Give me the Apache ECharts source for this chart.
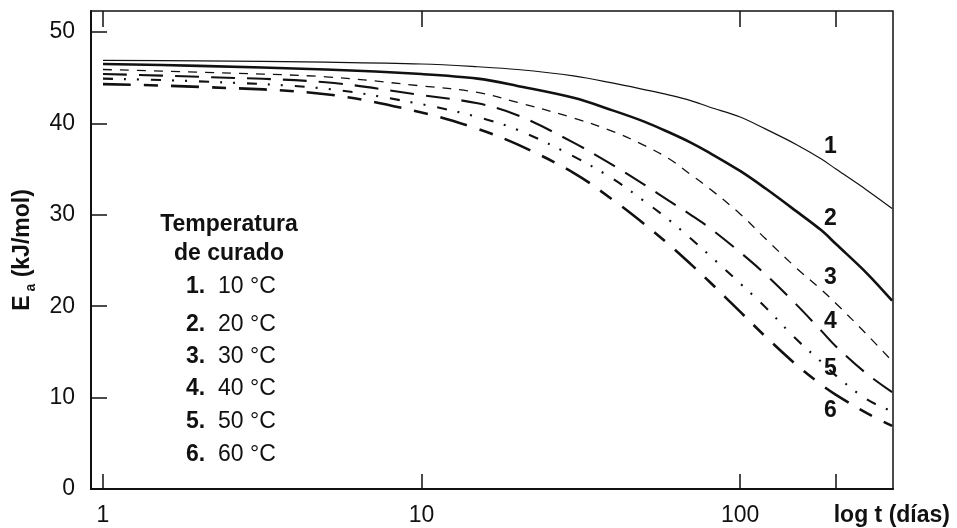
<!DOCTYPE html>
<html>
<head>
<meta charset="utf-8">
<script src="https://cdn.jsdelivr.net/npm/echarts@6/dist/echarts.min.js"></script>
<style>
html, body { margin: 0; padding: 0; background: #fff; }
#chart { width: 957px; height: 528px; }
</style>
</head>
<body>
<div id="chart"></div>
<script>
// curing time (days) and activation energy Ea (kJ/mol) per curing temperature
const days = [1, 2, 5, 10, 15, 20, 30, 40, 50, 60, 70, 80, 100, 120, 150, 180, 200, 250, 300];
const ea10C = [46.9, 46.85, 46.7, 46.5, 46.2, 45.9, 45.2, 44.4, 43.7, 43.1, 42.5, 41.8, 40.7, 39.4, 37.7, 36.1, 35.0, 32.7, 30.7];
const ea20C = [46.5, 46.3, 45.9, 45.4, 44.9, 44.1, 42.8, 41.4, 40.2, 39.0, 37.9, 36.8, 34.8, 32.9, 30.4, 28.3, 26.8, 23.6, 20.6];
const ea30C = [45.9, 45.6, 45.1, 44.1, 43.4, 42.3, 40.6, 39.1, 37.6, 36.1, 34.4, 32.9, 30.1, 27.4, 24.2, 21.8, 20.3, 16.9, 14.0];
const ea40C = [45.4, 45.1, 44.5, 43.1, 42.2, 40.9, 37.9, 35.4, 33.3, 31.5, 30.0, 28.6, 25.9, 23.5, 20.2, 17.3, 15.6, 12.6, 10.6];
const ea50C = [44.9, 44.6, 43.8, 42.1, 40.7, 39.3, 36.4, 33.9, 31.5, 29.4, 27.4, 25.6, 22.5, 19.9, 16.4, 13.9, 12.4, 9.8, 8.5];
const ea60C = [44.3, 44.0, 43.2, 41.2, 39.4, 37.7, 34.6, 31.6, 29.0, 26.7, 24.6, 22.7, 19.4, 16.7, 13.6, 11.4, 10.3, 8.3, 6.9];

const curveNums = ['1', '2', '3', '4', '5', '6'];
const tempLabels = ['10 °C', '20 °C', '30 °C', '40 °C', '50 °C', '60 °C'];
const xTickValues = [1, 10, 100, 200];
const xLabelValues = [1, 10, 100];
const yTickValues = [0, 10, 20, 30, 40, 50];

// where the curve numbers sit (data coords)
const numLabelDay = 192;
const numLabelEa = [37.5, 29.6, 23.1, 18.3, 13.2, 8.6];

const FONT = '"Liberation Sans", Arial, sans-serif';
const INK = '#111';
const FS = 23;

const allEa = [ea10C, ea20C, ea30C, ea40C, ea50C, ea60C];
const lineStyles = [
    { width: 1.2, type: 'solid' },
    { width: 2.6, type: 'solid' },
    { width: 1.3, type: [9, 8] },
    { width: 2.1, type: [24, 12] },
    { width: 2.1, type: [10, 11, 2, 11, 2, 12] },
    { width: 2.6, type: [28, 13, 14, 13] }
];

const chart = echarts.init(document.getElementById('chart'));

const series = allEa.map((vals, i) => ({
    type: 'line',
    name: curveNums[i],
    data: days.map((d, k) => [d, vals[k]]),
    showSymbol: false,
    smooth: 0.35,
    lineStyle: Object.assign({ color: INK, cap: 'butt' }, lineStyles[i]),
    markPoint: {
        symbol: 'circle',
        symbolSize: 1,
        itemStyle: { color: 'rgba(0,0,0,0)' },
        label: { show: true, position: 'inside', formatter: curveNums[i], fontFamily: FONT, fontWeight: 'bold', fontSize: FS, color: INK },
        data: [{ coord: [numLabelDay, numLabelEa[i]] }]
    }
}));

const legendRows = tempLabels.map((t, i) => ({
    type: 'text',
    x: 186,
    y: [287, 325, 357, 389, 422, 455][i],
    style: {
        text: '{b|' + curveNums[i] + '.}  ' + t,
        font: FS + 'px ' + FONT,
        fill: INK,
        verticalAlign: 'middle',
        rich: { b: { fontWeight: 'bold', fontSize: FS, fontFamily: FONT } }
    }
}));

chart.setOption({
    animation: false,
    backgroundColor: '#fff',
    grid: { left: 91, right: 64, top: 11, bottom: 39, outerBoundsMode: 'none', show: true, borderColor: INK, borderWidth: 1.5 },
    xAxis: [{
        type: 'log',
        min: 0.917,
        max: 302,
        position: 'bottom',
        name: 'log t (días)',
        nameLocation: 'end',
        nameGap: 57,
        nameTextStyle: { fontFamily: FONT, fontWeight: 'bold', fontSize: FS, color: INK, align: 'right', verticalAlign: 'top', padding: [15, 0, 0, 0] },
        axisLine: { show: true, lineStyle: { color: INK, width: 2 } },
        axisTick: { inside: true, length: 15, lineStyle: { color: INK, width: 1.5 }, customValues: xTickValues },
        axisLabel: { customValues: xLabelValues, margin: 15, fontFamily: FONT, fontSize: FS, color: INK },
        splitLine: { show: false }
    }, {
        type: 'log',
        min: 0.917,
        max: 302,
        position: 'top',
        axisLine: { show: false },
        axisTick: { inside: true, length: 16, lineStyle: { color: INK, width: 1.5 }, customValues: xTickValues },
        axisLabel: { show: false },
        splitLine: { show: false }
    }],
    yAxis: {
        type: 'value',
        min: 0,
        max: 52.3,
        name: '{e|E}{s|a}{n| (kJ/mol)}',
        nameLocation: 'middle',
        nameGap: 52,
        nameRotate: 90,
        nameTextStyle: {
            color: INK,
            rich: {
                e: { fontFamily: FONT, fontWeight: 'bold', fontSize: FS, color: INK, lineHeight: 32, verticalAlign: 'middle' },
                s: { fontFamily: FONT, fontWeight: 'bold', fontSize: 14, color: INK, lineHeight: 32, verticalAlign: 'bottom', padding: [0, 0, 0, 4] },
                n: { fontFamily: FONT, fontWeight: 'bold', fontSize: FS, color: INK, lineHeight: 32, verticalAlign: 'middle' }
            }
        },
        axisLine: { show: true, lineStyle: { color: INK, width: 2 } },
        axisTick: { inside: true, length: 16, lineStyle: { color: INK, width: 1.5 }, customValues: yTickValues },
        axisLabel: { customValues: yTickValues, margin: 16, fontFamily: FONT, fontSize: FS, color: INK },
        splitLine: { show: false }
    },
    graphic: [
        { type: 'text', x: 229, y: 225, style: { text: 'Temperatura', font: 'bold ' + FS + 'px ' + FONT, fill: INK, align: 'center', verticalAlign: 'middle' } },
        { type: 'text', x: 229, y: 254, style: { text: 'de curado', font: 'bold ' + FS + 'px ' + FONT, fill: INK, align: 'center', verticalAlign: 'middle' } }
    ].concat(legendRows),
    series: series
});

window.addEventListener('resize', () => chart.resize());
</script>
</body>
</html>
